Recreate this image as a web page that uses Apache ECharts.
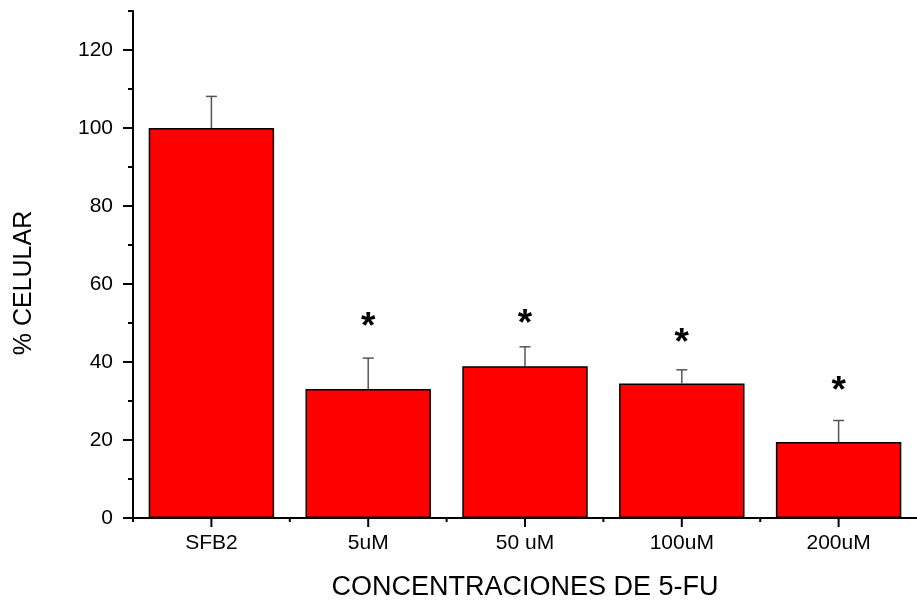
<!DOCTYPE html>
<html>
<head>
<meta charset="utf-8">
<script src="https://cdn.jsdelivr.net/npm/echarts@6/dist/echarts.min.js"></script>
<style>html,body{margin:0;padding:0;background:#fff}#c{width:917px;height:606px}</style>
</head>
<body>
<div id="c"></div>
<script>
var categories = ['SFB2', '5uM', '50 uM', '100uM', '200uM'];
var means = [100, 33.1, 38.9, 34.5, 19.5];
var errors = [8.1, 7.9, 5.0, 3.5, 5.5];
var starLevels = [null, 50.9, 51.6, 46.7, 34.3];
var yMajorTicks = [0, 20, 40, 60, 80, 100, 120];
var yMinorTicks = [10, 30, 50, 70, 90, 110, 130];

var FONT = 'Arial, "Liberation Sans", sans-serif';
var chart = echarts.init(document.getElementById('c'), null, {renderer: 'canvas'});

var errData = categories.map(function (c, i) { return [i, means[i], means[i] + errors[i]]; });
var starData = categories.map(function (c, i) { return [i, starLevels[i]]; }).filter(function (d) { return d[1] != null; });
var tickData = categories.map(function (c, i) { return [i, 0]; });

var option = {
  animation: false,
  backgroundColor: '#fff',
  grid: {left: 133, top: 11, width: 790, bottom: 84, containLabel: false},
  xAxis: {
    type: 'category',
    data: categories,
    boundaryGap: true,
    axisLine: {lineStyle: {color: '#000', width: 2}},
    axisTick: {show: false},
    axisLabel: {color: '#000', fontSize: 21, fontFamily: FONT, margin: 15},
    name: 'CONCENTRACIONES DE 5-FU',
    nameLocation: 'middle',
    nameGap: 56,
    nameTextStyle: {color: '#000', fontSize: 27, fontFamily: FONT}
  },
  yAxis: [{
    type: 'value',
    min: 0, max: 130,
    interval: 10,
    splitLine: {show: false},
    axisLine: {show: true, lineStyle: {color: '#000', width: 2}},
    axisTick: {show: true, customValues: yMajorTicks, length: 10, lineStyle: {color: '#000', width: 2}},
    axisLabel: {customValues: yMajorTicks, color: '#000', fontSize: 21, fontFamily: FONT, margin: 20}
  }, {
    type: 'value',
    min: 0, max: 130,
    interval: 10,
    position: 'left',
    offset: 0,
    splitLine: {show: false},
    axisLine: {show: false},
    axisTick: {show: true, customValues: yMinorTicks, length: 5, lineStyle: {color: '#000', width: 2}},
    axisLabel: {show: false}
  }],
  graphic: [{
    type: 'text',
    x: 24, y: 283,
    rotation: Math.PI / 2,
    style: {text: '% CELULAR', fill: '#000', font: '25px ' + FONT, align: 'center', verticalAlign: 'middle'}
  }],
  series: [{
    type: 'bar',
    data: means,
    barCategoryGap: '20%',
    itemStyle: {color: '#ff0000', borderColor: '#000', borderWidth: 1.5},
    z: 2
  }, {
    type: 'custom',
    data: errData,
    z: 3,
    renderItem: function (params, api) {
      var x = api.value(0);
      var lo = api.coord([x, api.value(1)]);
      var hi = api.coord([x, api.value(2)]);
      var half = 5.5;
      var st = {stroke: '#555', lineWidth: 1.5};
      return {type: 'group', children: [
        {type: 'line', shape: {x1: lo[0], y1: lo[1], x2: hi[0], y2: hi[1]}, style: st},
        {type: 'line', shape: {x1: hi[0] - half, y1: hi[1], x2: hi[0] + half, y2: hi[1]}, style: st}
      ]};
    }
  }, {
    type: 'custom',
    data: tickData,
    z: 5,
    clip: false,
    renderItem: function (params, api) {
      var p = api.coord([api.value(0), api.value(1)]);
      var bw = api.size([1, 0])[0];
      var st = {stroke: '#000', lineWidth: 2};
      var xl = p[0] - bw / 2;
      return {type: 'group', children: [
        {type: 'line', shape: {x1: p[0], y1: p[1], x2: p[0], y2: p[1] + 9}, style: st},
        {type: 'line', shape: {x1: xl, y1: p[1], x2: xl, y2: p[1] + 4}, style: st}
      ]};
    }
  }, {
    type: 'custom',
    data: starData,
    z: 4,
    renderItem: function (params, api) {
      var p = api.coord([api.value(0), api.value(1)]);
      return {type: 'text', x: p[0], y: p[1] + 8,
        style: {text: '*', fill: '#000', font: 'bold 37px ' + FONT, align: 'center', verticalAlign: 'middle'}};
    }
  }]
};
chart.setOption(option);
</script>
</body>
</html>
